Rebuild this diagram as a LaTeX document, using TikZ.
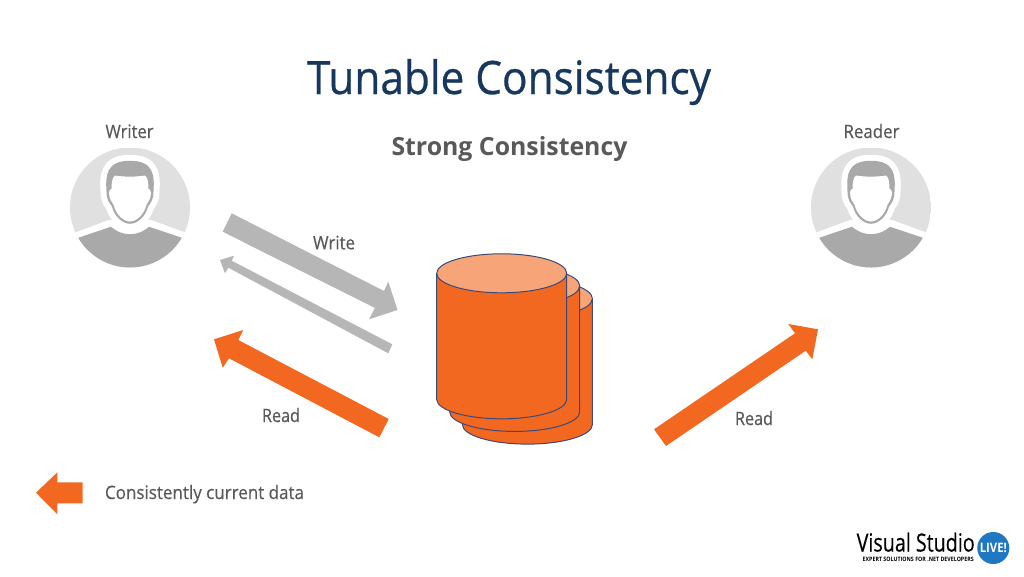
\documentclass[tikz,border=0pt]{standalone}
\usepackage{fontspec}
\usepackage{graphicx}
\setmainfont{Open Sans}
\newfontfamily\heavyfont[FakeBold=0.35]{Open Sans}
\newfontfamily\heavierfont[FakeBold=0.6]{Open Sans}
\definecolor{orng}{HTML}{F36821}
\definecolor{orngl}{HTML}{F8A479}
\definecolor{cyledge}{HTML}{3A4A78}
\definecolor{arrgray}{HTML}{B6B6B6}
\definecolor{txtgray}{HTML}{58595B}
\definecolor{navy}{HTML}{17375E}
\definecolor{lightp}{HTML}{E0E0E0}
\definecolor{darkp}{HTML}{A9A9A9}
\definecolor{logoblue}{HTML}{1F78C1}
\newcommand{\fitto}[3]{\resizebox{#1pt}{\height}{\fontsize{#2}{#2}\selectfont #3}}
\tikzset{
  lbl/.style={anchor=base west,inner sep=0pt,outer sep=0pt,text=txtgray},
  grayarrow/.style={fill=arrgray,draw=none},
  orangearrow/.style={fill=orng,draw=none},
  person/.pic={
    \begin{scope}
      \clip (0,0) circle (60);
      \fill[lightp] (-60,-60) rectangle (60,60);
      \fill[white] (-60,27) -- (-21.7,12.7) -- (21.7,12.7) -- (60,26.7) -- (60,60) -- (-60,60) -- cycle;
      \fill[darkp] (-54,31) -- (-19,19.3) .. controls (-12,25) and (-6,26.7) .. (0,26.7) .. controls (6,26.7) and (12,25) .. (19,19.3) -- (54,31) -- (54,62) -- (-54,62) -- cycle;
    \end{scope}
    \def\headpath{(-23.5,-16) .. controls (-24.5,-32) and (-24,-46.7) .. (0,-46.7) .. controls (24,-46.7) and (24.5,-32) .. (23.5,-16) .. controls (23.5,-8) and (21,-5) .. (18,-1) .. controls (16,8) and (8,16.3) .. (0,16.3) .. controls (-8,16.3) and (-16,8) .. (-18,-1) .. controls (-21,-5) and (-23.5,-8) .. (-23.5,-16) -- cycle}
    \fill[white,draw=white,line width=12pt,line join=round] \headpath;
    \fill[darkp] \headpath;
    \fill[white] (-21,-15) .. controls (-20.5,-18) and (-19.5,-18.5) .. (-18.5,-18.5) .. controls (-18.5,-24) and (-18,-30) .. (-15,-32) .. controls (-6,-30.5) and (6,-30.5) .. (15,-32) .. controls (18,-30) and (18.5,-24) .. (18.5,-18.5) .. controls (19.5,-18.5) and (20.5,-18) .. (21,-15) .. controls (21,-9) and (18.5,-6) .. (16.3,-2.5) .. controls (14.5,6) and (7,14) .. (0,14) .. controls (-7,14) and (-14.5,6) .. (-16.3,-2.5) .. controls (-18.5,-6) and (-21,-9) .. (-21,-15) -- cycle;
  },
  cyl/.pic={
    \fill[orng] (-65,0) -- (-65,126) arc[start angle=180,end angle=360,x radius=65,y radius=-19.5] -- (65,0) -- cycle;
    \draw[cyledge,line width=1pt] (-65,0) -- (-65,126) arc[start angle=180,end angle=360,x radius=65,y radius=-19.5] -- (65,0);
    \filldraw[fill=orngl,draw=cyledge,line width=1pt] (0,0) ellipse[x radius=65,y radius=19.5];
  }
}
\begin{document}
\begin{tikzpicture}[x=1pt,y=-1pt]
\useasboundingbox (0,0) rectangle (1024,576);
\fill[white] (0,0) rectangle (1024,576);

\node[lbl,text=navy] (title) at (307,94) {\fitto{404}{46}{\heavierfont Tunable Consistency}};
\node[lbl] (sub) at (391.5,155) {\fitto{236}{25}{\bfseries Strong Consistency}};

\pic at (130,207.5) {person};
\pic at (871,207.5) {person};
\node[lbl] (writer) at (105.5,138) {\fitto{48}{18.5}{\heavyfont Writer}};
\node[lbl] (reader) at (843.5,138) {\fitto{56}{18.5}{\heavyfont Reader}};

% database cylinders, back to front
\pic at (527.4,298.6) {cyl};
\pic at (514.7,285.9) {cyl};
\pic at (501.7,273.3) {cyl};

% write / ack arrows
\fill[grayarrow] (231.7,213.3) -- (384,291) -- (388.3,281.7) -- (397.5,310) -- (369,319.3) -- (375,308) -- (222.7,231.7) -- cycle;
\fill[grayarrow] (392.3,344.3) -- (231.7,260.7) -- (234,255.7) -- (220,260) -- (225,273.3) -- (228.3,267.7) -- (388.3,353.3) -- cycle;
% read arrows
\fill[orangearrow] (388.7,419) -- (238.3,340) -- (243.3,330) -- (214,339.3) -- (222.7,367.7) -- (229,358.3) -- (379.3,437.3) -- cycle;
\fill[orangearrow] (654,429.3) -- (795,333.3) -- (788.3,324) -- (818,329.3) -- (812.3,359.3) -- (805.7,350.7) -- (666,446) -- cycle;
% legend arrow
\fill[orangearrow] (36,492.7) -- (57.3,472.3) -- (57.3,482.3) -- (82.7,482.3) -- (82.7,503.3) -- (57.3,503.3) -- (57.3,514.3) -- cycle;

\node[lbl] (write) at (313,249.3) {\fitto{42}{18.5}{\heavyfont Write}};
\node[lbl] (readl) at (262,422) {\fitto{38}{18.5}{\heavyfont Read}};
\node[lbl] (readr) at (735,425) {\fitto{38}{18.5}{\heavyfont Read}};
\node[lbl] (legend) at (105,499) {\fitto{199}{18.5}{\heavyfont Consistently current data}};

% logo
\node[lbl,text=black] (vs) at (856.7,551.5) {\fitto{118}{25}{\heavyfont Visual Studio}};
\node[lbl,text=black] (tag) at (862.7,561.5) {\fitto{111}{6}{\bfseries EXPERT SOLUTIONS FOR .NET DEVELOPERS}};
\fill[logoblue] (993.3,548) circle (16);
\node[inner sep=0pt,text=white] (live) at (993.3,548) {\fitto{27}{13}{\bfseries LIVE!}};
\end{tikzpicture}
\end{document}
